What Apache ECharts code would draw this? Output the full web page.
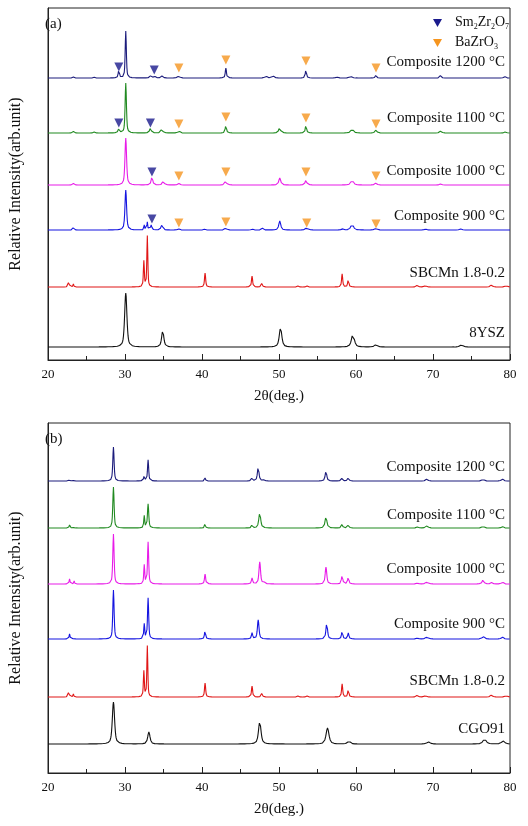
<!DOCTYPE html>
<html><head><meta charset="utf-8">
<script src="https://cdn.jsdelivr.net/npm/echarts@6/dist/echarts.min.js"></script>
<style>html,body{margin:0;padding:0;background:#fff}#c{width:528px;height:826px}</style>
</head><body><div id="c"></div>
<script>
// peaks: [2theta, height, fwhm]; baselines are vertical offsets of each stacked pattern
const names = ['Composite 1200 °C', 'Composite 1100 °C', 'Composite 1000 °C', 'Composite 900 °C', 'SBCMn 1.8-0.2'];
const colors = ['#1c1c7c', '#218a21', '#e81ce8', '#1515e0', '#e01616', '#111111'];

const sbcmnPeaks = [[22.7,6,.15],[23.3,3,.12],[32.45,26,.15],[32.9,51,.15],[40.4,14,.18],[46.5,11,.18],[47.8,5,.15],
  [52.5,1.5,.15],[53.6,1.5,.15],[58.2,13,.18],[59.0,8,.18],[68.0,3,.2],[69.0,3,.2],[77.6,2,.3],[79.5,1.5,.3]];

// panel (a)
const topBase = [282, 227, 175, 130, 73, 13];
const topPeaks = [
  [[23.3,1,.2],[26,.8,.2],[29.2,8,.2],[30.1,47,.18],[33.3,2,.25],[33.8,2,.3],[34.8,2,.3],[37,2,.3],[43.1,10,.18],[48.3,2,.3],[49.2,2,.4],[53.5,9,.18],[57.5,1,.3],[59.3,1.5,.4],[62.6,3,.2],[71,3,.2],[79.3,1.5,.3]],
  [[23.3,1.5,.2],[26,1,.2],[29.2,4,.25],[30.1,50,.2],[33.3,5,.25],[34.8,5,.25],[37,2,.3],[43.1,8,.2],[50.1,6,.3],[53.5,8,.2],[59.5,4,.4],[62.6,3,.3],[71,2,.3],[79.4,1,.3]],
  [[23.3,1.5,.2],[30.1,47,.25],[33.5,8,.25],[35.0,5,.25],[37,1.5,.3],[43.1,5,.25],[50.1,7,.3],[53.5,5,.25],[59.5,5,.4],[62.6,2,.3],[71,1,.3]],
  [[23.3,3,.15],[30.1,40,.25],[32.5,5,.12],[32.9,8,.12],[33.4,5,.2],[34.8,5,.3],[37,1,.3],[40.4,2,.15],[43.1,2,.3],[46.5,2,.15],[47.8,2,.2],[50.1,9,.3],[53.6,2,.4],[58.2,2,.2],[59.5,6,.4],[62.6,1.5,.4],[69,1,.3],[73.6,1,.4]],
  sbcmnPeaks,
  [[30.1,54,.35],[34.9,16,.35],[50.2,19,.4],[59.6,13,.45],[62.6,2.5,.4],[73.7,2,.5]]
];
const topLabels = names.concat(['8YSZ']);
const smMarks = [[29.2,293],[33.8,290],[29.2,237],[33.3,237],[33.5,188],[33.5,141]];
const baMarks = [[37,292],[43.1,300],[53.5,299],[62.6,292],[37,236],[43.1,243],[53.5,242],[62.6,236],
  [37,184],[43.1,188],[53.5,188],[62.6,184],[37,137],[43.1,138],[53.6,137],[62.6,136]];

// panel (b)
const botBase = [292, 245, 189, 134, 76, 29];
const botPeaks = [
  [[22.8,2,.15],[23.4,1.5,.12],[28.5,34,.2],[32.5,6,.15],[33.0,21,.18],[40.4,3,.15],[46.5,3,.2],[47.3,14,.25],[47.9,2,.2],[56.1,10,.25],[58.2,3,.2],[59.0,3,.25],[69.2,2,.3],[76.5,2,.3],[79,2,.3]],
  [[22.8,3,.15],[23.4,1.5,.12],[28.5,41,.2],[32.5,12,.15],[33.0,24,.2],[40.4,5,.15],[46.5,3,.2],[47.5,15,.3],[56.1,11,.3],[58.2,4,.2],[59.0,3,.25],[68,1,.3],[69.2,2,.4],[76.5,2,.3],[79,1.5,.3]],
  [[22.8,5,.15],[23.4,3,.12],[28.5,50,.2],[32.5,19,.15],[33.0,42,.18],[40.4,10,.18],[46.5,6,.2],[47.5,22,.25],[48,3,.2],[56.1,17,.25],[58.2,9,.2],[59.0,7,.2],[68,1,.3],[69.2,2,.4],[76.5,4,.3],[77.6,1.5,.3],[79,2,.3]],
  [[22.8,5,.15],[23.4,2,.12],[28.5,49,.2],[32.5,15,.15],[33.0,41,.18],[40.4,9,.18],[46.5,6,.2],[47.3,19,.25],[56.2,16,.25],[58.2,8,.2],[59.0,6,.2],[68,1,.3],[69.2,2,.4],[76.5,3,.3],[79,2,.3]],
  sbcmnPeaks,
  [[28.5,42,.35],[33.1,12,.35],[47.5,22,.4],[56.3,16,.45],[59.1,3,.4],[69.4,2,.5],[76.7,5,.5],[79.1,3,.5]]
];
const botLabels = names.concat(['CGO91']);

function profile(peaks, base) {
  const pts = [];
  for (let i = 0; i <= 1200; i++) {
    const x = 20 + i * 0.05;
    let y = base;
    for (const [p, h, w] of peaks) {
      const d = (x - p) / (w / 2);
      y += h * (0.6 / (1 + d * d) + 0.4 * Math.exp(-0.693 * d * d));
    }
    pts.push([+x.toFixed(2), y]);
  }
  return pts;
}

const serif = 'Liberation Serif';
const grids = [
  { left: 41, right: 18, top: 8, height: 352, show: true, borderColor: '#222', borderWidth: 1 },
  { left: 41, right: 18, top: 423, height: 350, show: true, borderColor: '#222', borderWidth: 1 }
];
function xAx(i) {
  return { gridIndex: i, type: 'value', min: 20, max: 80, interval: 10,
    name: '2θ(deg.)', nameLocation: 'middle', nameGap: 29, nameTextStyle: { fontFamily: serif, fontSize: 15, color: '#111' },
    axisLine: { lineStyle: { color: '#222' } }, axisTick: { inside: true, length: 6, lineStyle: { color: '#222' } },
    minorTick: { show: true, splitNumber: 2, length: 4, lineStyle: { color: '#222' } },
    axisLabel: { fontFamily: serif, fontSize: 13, color: '#111' }, splitLine: { show: false } };
}
function yAx(i, max) {
  return { gridIndex: i, type: 'value', min: 0, max: max,
    name: 'Relative Intensity(arb.unit)', nameLocation: 'middle', nameGap: 24,
    nameTextStyle: { fontFamily: serif, fontSize: 16, color: '#111' },
    axisLine: { show: true, lineStyle: { color: '#222' } }, axisTick: { show: false },
    axisLabel: { show: false }, splitLine: { show: false } };
}

const series = [];
topPeaks.forEach((p, k) => series.push({ type: 'line', xAxisIndex: 0, yAxisIndex: 0, data: profile(p, topBase[k]),
  showSymbol: false, lineStyle: { width: 1.1, color: colors[k] }, animation: false }));
botPeaks.forEach((p, k) => series.push({ type: 'line', xAxisIndex: 1, yAxisIndex: 1, data: profile(p, botBase[k]),
  showSymbol: false, lineStyle: { width: 1.1, color: colors[k] }, animation: false }));
series.push({ type: 'scatter', xAxisIndex: 0, yAxisIndex: 0, data: smMarks, symbol: 'triangle', symbolRotate: 180,
  symbolSize: 9, itemStyle: { color: '#1a1a8c' }, animation: false });
series.push({ type: 'scatter', xAxisIndex: 0, yAxisIndex: 0, data: baMarks, symbol: 'triangle', symbolRotate: 180,
  symbolSize: 9, itemStyle: { color: '#f5951f' }, animation: false });

const topLabelY = [64, 120, 173, 218, 275, 335];
const botLabelY = [469, 517, 571, 626, 683, 731];
const lbl = '15px "Liberation Serif"';
const graphic = [];
topLabels.forEach((t, k) => graphic.push({ type: 'text', right: 23, top: topLabelY[k] - 9,
  style: { text: t, font: lbl, fill: '#111' } }));
botLabels.forEach((t, k) => graphic.push({ type: 'text', right: 23, top: botLabelY[k] - 9,
  style: { text: t, font: lbl, fill: '#111' } }));
graphic.push({ type: 'text', left: 45, top: 17, style: { text: '(a)', font: lbl, fill: '#111' } });
graphic.push({ type: 'text', left: 45, top: 432, style: { text: '(b)', font: lbl, fill: '#111' } });
graphic.push({ type: 'polygon', shape: { points: [[433, 19], [442, 19], [437.5, 27]] }, style: { fill: '#1a1a8c' } });
graphic.push({ type: 'polygon', shape: { points: [[433, 39], [442, 39], [437.5, 47]] }, style: { fill: '#f5951f' } });
graphic.push({ type: 'text', left: 455, top: 15, style: { text: 'Sm{s|2}Zr{s|2}O{s|7}', font: '14px "Liberation Serif"', fill: '#111',
  rich: { s: { fontSize: 8, fontFamily: serif, padding: [9, 0, 0, 0] } } } });
graphic.push({ type: 'text', left: 455, top: 35, style: { text: 'BaZrO{s|3}', font: '14px "Liberation Serif"', fill: '#111',
  rich: { s: { fontSize: 8, fontFamily: serif, padding: [9, 0, 0, 0] } } } });

const chart = echarts.init(document.getElementById('c'));
chart.setOption({
  backgroundColor: '#fff',
  grid: grids,
  xAxis: [xAx(0), xAx(1)],
  yAxis: [yAx(0, 352), yAx(1, 350)],
  series: series,
  graphic: graphic
});
</script></body></html>
